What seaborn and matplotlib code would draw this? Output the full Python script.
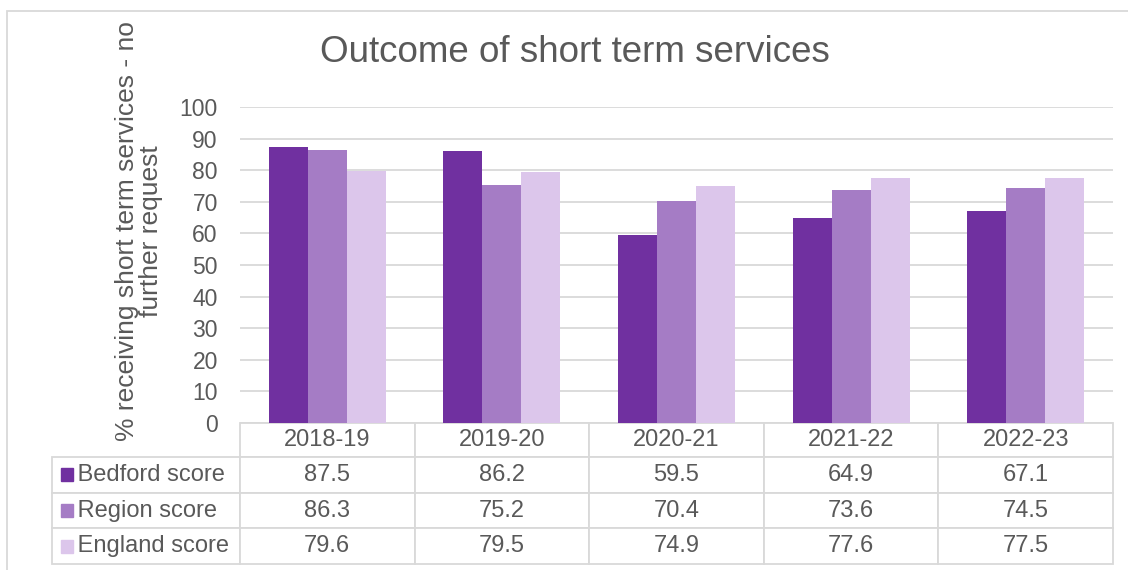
import matplotlib.pyplot as plt
import pandas as pd
import seaborn as sns
from matplotlib.patches import Rectangle
from matplotlib.table import Table

years = ["2018-19", "2019-20", "2020-21", "2021-22", "2022-23"]
bedford = [87.5, 86.2, 59.5, 64.9, 67.1]
region = [86.3, 75.2, 70.4, 73.6, 74.5]
england = [79.6, 79.5, 74.9, 77.6, 77.5]
series = ["Bedford score", "Region score", "England score"]
colors = ["#7030A0", "#A57CC5", "#DCC6EB"]

TEXT = "#595959"
GRID = "#D9D9D9"
W, H = 1128, 570
AX_W, AX_H = 873, 316  # plot area size in pixels

sns.set_theme(style="white")
plt.rcParams["font.family"] = ["Liberation Sans", "DejaVu Sans"]

values = [bedford, region, england]
df = pd.DataFrame({
    "year": years * len(series),
    "score": [v for vals in values for v in vals],
    "series": [s for s in series for _ in years],
})

fig = plt.figure(figsize=(W / 100, H / 100), dpi=100)
# plot area in pixels: x 240..1113, y 107..423
ax = fig.add_axes([240 / W, 1 - 423 / H, AX_W / W, AX_H / H])
sns.barplot(data=df, x="year", y="score", hue="series", hue_order=series,
            palette=colors, width=0.67, gap=0, linewidth=0, saturation=1,
            legend=False, ax=ax, zorder=3)

ax.set_ylim(0, 100)
ax.set_xlim(-0.5, len(years) - 0.5)
ax.set_yticks(range(0, 101, 10))
ax.set_axisbelow(True)
ax.yaxis.grid(True, color=GRID, lw=1.3)
ax.xaxis.grid(False)
ax.tick_params(axis="y", length=0, pad=16, labelsize=16.5, labelcolor=TEXT)
ax.tick_params(axis="x", bottom=False, labelbottom=False)
ax.set_xlabel("")
ax.set_ylabel("")
sns.despine(ax=ax, left=True, bottom=True)

# data table under the axis (sizes in axes units so the bbox scale stays 1)
row_h, head_h = 35.7 / AX_H, 34 / AX_H
lab_w, col_w = 188 / AX_W, 1 / len(years)
tbl_h = head_h + row_h * len(series)
tbl = Table(ax, bbox=[0, -tbl_h, 1, tbl_h])
for c, year in enumerate(years):
    tbl.add_cell(0, c, width=col_w, height=head_h, text=year, loc="center")
for r, (name, vals) in enumerate(zip(series, values), start=1):
    tbl.add_cell(r, -1, width=lab_w, height=row_h, text=" " + name, loc="left")
    for c, v in enumerate(vals):
        tbl.add_cell(r, c, width=col_w, height=row_h, text=f"{v:.1f}", loc="center")
tbl.auto_set_font_size(False)
tbl.set_fontsize(17)
for cell in tbl.get_celld().values():
    cell.set_edgecolor(GRID)
    cell.set_linewidth(1.3)
    cell.set_facecolor("white")
    cell.get_text().set_color(TEXT)
ax.add_table(tbl)

# legend keys in the row labels
for r, col in enumerate(colors):
    yc = head_h + row_h * (r + 0.5)
    ax.add_patch(Rectangle(((61 - 240) / AX_W, -yc - 6.5 / AX_H), 12 / AX_W, 13 / AX_H,
                           transform=ax.transAxes, color=col, clip_on=False, zorder=5))

fig.text(575 / W, 1 - 53 / H, "Outcome of short term services",
         fontsize=26.5, color=TEXT, ha="center", va="center")
fig.text(139 / W, 1 - 231 / H, "% receiving short term services - no\nfurther request",
         fontsize=19, color=TEXT, rotation=90, ha="center", va="center",
         multialignment="center", linespacing=1.0)

# chart border
fig.add_artist(Rectangle((7 / W, -0.1), 1.2, 1.1 - 11 / H, fill=False,
                         edgecolor=GRID, lw=1.3, transform=fig.transFigure))

fig.savefig("out.png", dpi=100)
